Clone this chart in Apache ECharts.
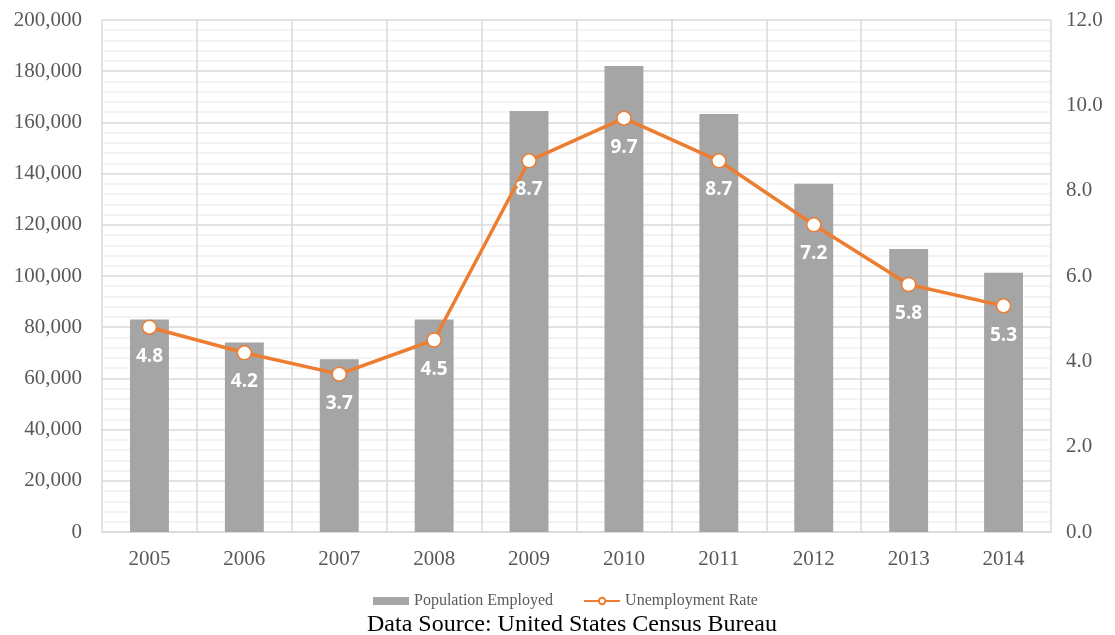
<!DOCTYPE html>
<html>
<head>
<meta charset="utf-8">
<script src="https://cdn.jsdelivr.net/npm/echarts@6/dist/echarts.min.js"></script>
<style>
html,body{margin:0;padding:0;background:#fff;}
#chart{width:1115px;height:635px;}
</style>
</head>
<body>
<div id="chart"></div>
<script>
const years = ['2005','2006','2007','2008','2009','2010','2011','2012','2013','2014'];
const employed = [83000, 74000, 67500, 83000, 164500, 182000, 163300, 136000, 110500, 101300];
const unemploymentRate = [4.8, 4.2, 3.7, 4.5, 8.7, 9.7, 8.7, 7.2, 5.8, 5.3];

const chart = echarts.init(document.getElementById('chart'));
const serif = '"Liberation Serif","Times New Roman",serif';
chart.setOption({
  animation: false,
  backgroundColor: '#fff',
  title: {
    text: 'Data Source: United States Census Bureau',
    left: 362, top: 608,
    textStyle: {fontFamily: serif, fontSize: 24, fontWeight: 'normal', color: '#000'}
  },
  legend: {
    top: 588, left: 368,
    itemGap: 30,
    itemWidth: 36, itemHeight: 8,
    textStyle: {fontFamily: serif, fontSize: 16, color: '#595959'},
    data: [
      {name: 'Population Employed', icon: 'rect'},
      {name: 'Unemployment Rate'}
    ]
  },
  grid: {left: 102, right: 64, top: 20, bottom: 103},
  xAxis: {
    type: 'category',
    data: years,
    axisLine: {lineStyle: {color: '#D9D9D9', width: 1.5}},
    axisTick: {show: false},
    axisLabel: {fontFamily: serif, fontSize: 21, color: '#595959', margin: 17},
    splitLine: {show: true, lineStyle: {color: '#D9D9D9', width: 1.5}}
  },
  yAxis: [
    {
      type: 'value', min: 0, max: 200000, interval: 20000,
      axisLine: {show: false}, axisTick: {show: false},
      axisLabel: {fontFamily: serif, fontSize: 21, color: '#595959', margin: 20,
        formatter: v => v.toLocaleString('en-US')},
      splitLine: {lineStyle: {color: '#D9D9D9', width: 1.5}},
      minorTick: {show: false, splitNumber: 5},
      minorSplitLine: {show: true, lineStyle: {color: '#EFEFEF', width: 1.5}}
    },
    {
      type: 'value', min: 0, max: 12, interval: 2,
      axisLine: {show: false}, axisTick: {show: false},
      axisLabel: {fontFamily: serif, fontSize: 21, color: '#595959', margin: 15,
        formatter: v => v.toFixed(1)},
      splitLine: {show: false}
    }
  ],
  series: [
    {
      name: 'Population Employed',
      type: 'bar',
      data: employed,
      barWidth: '41%',
      itemStyle: {color: '#A5A5A5'},
      yAxisIndex: 0
    },
    {
      name: 'Unemployment Rate',
      type: 'line',
      yAxisIndex: 1,
      data: unemploymentRate,
      symbol: 'circle',
      symbolSize: 14,
      lineStyle: {color: '#ED7D31', width: 3.5},
      itemStyle: {color: '#fff', borderColor: '#ED7D31', borderWidth: 1.5},
      label: {
        show: true, position: 'bottom', distance: 12,
        color: '#fff', fontFamily: '"Open Sans",sans-serif', fontWeight: 'bold', fontSize: 19,
        formatter: p => p.value.toFixed(1)
      },
      z: 5
    }
  ]
});
</script>
</body>
</html>
